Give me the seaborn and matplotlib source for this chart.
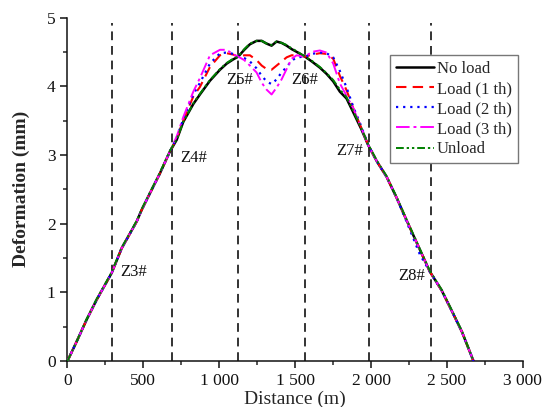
import numpy as np
import pandas as pd
import matplotlib
matplotlib.use('Agg')
import matplotlib.pyplot as plt
import matplotlib.ticker as mticker
import seaborn as sns

sns.set_style('ticks')
plt.rcParams['font.family'] = ['Liberation Serif', 'DejaVu Serif']
plt.rcParams['mathtext.fontset'] = 'stix'

# distance along the line (m)
distance = [0, 60, 126, 192, 291, 357, 456, 489, 543, 609, 675, 720, 763, 829,
            873, 939, 1005, 1050, 1092, 1125, 1165, 1202, 1246, 1280, 1312,
            1345, 1378, 1411, 1444, 1477, 1510, 1565, 1610, 1663, 1707, 1751,
            1795, 1839, 1883, 1935, 1982, 2040, 2103, 2170, 2234, 2322, 2388,
            2465, 2541, 2600, 2675]

no_load = [0.00, 0.28, 0.60, 0.89, 1.28, 1.64, 2.03, 2.20, 2.44, 2.73, 3.05,
           3.22, 3.48, 3.74, 3.88, 4.08, 4.24, 4.33, 4.39, 4.43, 4.53, 4.61,
           4.66, 4.66, 4.62, 4.59, 4.65, 4.63, 4.59, 4.54, 4.50, 4.43, 4.36,
           4.27, 4.18, 4.07, 3.92, 3.82, 3.62, 3.38, 3.14, 2.90, 2.68, 2.37,
           2.05, 1.62, 1.30, 1.03, 0.69, 0.42, 0.00]

load_1 = [0.00, 0.28, 0.60, 0.89, 1.28, 1.64, 2.03, 2.20, 2.44, 2.73, 3.05,
          3.24, 3.50, 3.85, 3.99, 4.28, 4.45, 4.48, 4.46, 4.43, 4.45, 4.45,
          4.38, 4.30, 4.25, 4.24, 4.30, 4.36, 4.42, 4.45, 4.45, 4.43, 4.46,
          4.48, 4.47, 4.40, 4.15, 3.94, 3.68, 3.40, 3.14, 2.90, 2.68, 2.37,
          2.05, 1.62, 1.30, 1.03, 0.69, 0.42, 0.00]

load_2 = [0.00, 0.28, 0.60, 0.89, 1.28, 1.64, 2.03, 2.20, 2.44, 2.73, 3.05,
          3.25, 3.52, 3.88, 4.05, 4.33, 4.48, 4.49, 4.47, 4.43, 4.41, 4.36,
          4.26, 4.15, 4.07, 4.03, 4.10, 4.20, 4.28, 4.37, 4.42, 4.43, 4.47,
          4.49, 4.48, 4.42, 4.22, 3.98, 3.70, 3.42, 3.14, 2.90, 2.68, 2.37,
          2.03, 1.55, 1.30, 1.03, 0.69, 0.42, 0.00]

load_3 = [0.00, 0.28, 0.60, 0.89, 1.28, 1.64, 2.03, 2.20, 2.44, 2.73, 3.05,
          3.27, 3.55, 3.92, 4.12, 4.45, 4.53, 4.53, 4.46, 4.43, 4.38, 4.30,
          4.20, 4.05, 3.95, 3.88, 3.98, 4.10, 4.25, 4.40, 4.45, 4.43, 4.50,
          4.52, 4.49, 4.33, 4.04, 3.86, 3.68, 3.40, 3.14, 2.90, 2.68, 2.37,
          2.05, 1.62, 1.30, 1.03, 0.69, 0.42, 0.00]

unload = [0.00, 0.28, 0.61, 0.90, 1.29, 1.65, 2.04, 2.21, 2.45, 2.74, 3.06,
          3.23, 3.48, 3.75, 3.89, 4.09, 4.25, 4.34, 4.40, 4.43, 4.54, 4.62,
          4.66, 4.66, 4.62, 4.60, 4.65, 4.63, 4.60, 4.55, 4.51, 4.43, 4.37,
          4.28, 4.19, 4.09, 3.95, 3.84, 3.64, 3.40, 3.15, 2.91, 2.69, 2.38,
          2.06, 1.63, 1.31, 1.04, 0.70, 0.43, 0.00]

labels = ['No load', 'Load (1 th)', 'Load (2 th)', 'Load (3 th)', 'Unload']
series = [no_load, load_1, load_2, load_3, unload]
colors = ['#000000', '#ff0000', '#0000ff', '#ff00ff', '#008000']
styles = ['-', (0, (5, 3)), (0, (1, 2.2)), (0, (7, 2, 1.5, 2)),
          (0, (4, 1.5, 1.2, 1.5, 1.2, 1.5))]
widths = [1.8, 1.5, 1.6, 1.4, 1.4]

# monitoring sections
section_x = [292, 692, 1124, 1564, 1984, 2398]
section_names = ['Z3#', 'Z4#', 'Z5#', 'Z6#', 'Z7#', 'Z8#']
name_x = [346, 741, 1049, 1477, 1773, 2179]
name_y = [1.29, 2.96, 4.09, 4.09, 3.05, 1.24]

df = pd.DataFrame({'distance': distance})
for lab, vals in zip(labels, series):
    df[lab] = vals

fig = plt.figure(figsize=(5.44, 4.07), dpi=100)
ax = fig.add_axes([0.124, 0.113, 0.837, 0.844])

for xs in section_x:
    ax.axvline(xs, ymax=0.985, color='#333333', linestyle=(0, (4.5, 3)),
               linewidth=1.4, zorder=1)

for lab, c, ls, lw in zip(labels, colors, styles, widths):
    sns.lineplot(data=df, x='distance', y=lab, ax=ax, color=c, linestyle=ls,
                 linewidth=lw, label=lab, estimator=None, sort=False, zorder=3)

for name, tx, ty in zip(section_names, name_x, name_y):
    ax.text(tx, ty, name, fontsize=12, ha='left', va='center', color='#111111')

ax.set_xlim(0, 3000)
ax.set_ylim(0, 5)
ax.set_xticks([0, 500, 1000, 1500, 2000, 2500, 3000])
ax.set_xticklabels(['0', '500', '1 000', '1 500', '2 000', '2 500', '3 000'])
ax.set_yticks([0, 1, 2, 3, 4, 5])
ax.xaxis.set_minor_locator(mticker.AutoMinorLocator(2))
ax.yaxis.set_minor_locator(mticker.AutoMinorLocator(2))
ax.tick_params(which='major', direction='out', length=5, width=1.1, labelsize=12.5,
               colors='#111111')
ax.tick_params(which='minor', direction='out', length=3, width=1.1)
for s in ['top', 'right']:
    ax.spines[s].set_visible(False)
for s in ['left', 'bottom']:
    ax.spines[s].set_linewidth(1.1)
    ax.spines[s].set_color('#111111')

ax.set_xlabel('Distance (m)', fontsize=14, labelpad=1)
ax.set_ylabel('Deformation (mm)', fontsize=14, fontweight='bold', labelpad=12)

leg = ax.legend(loc='upper right', bbox_to_anchor=(0.989, 0.891), fontsize=12,
                frameon=True, fancybox=False, framealpha=1, edgecolor='#777777',
                handlelength=2.3, handletextpad=0.15, labelspacing=0.25,
                borderpad=0.35, borderaxespad=0)
leg.get_frame().set_linewidth(1.0)

plt.savefig('out.png', dpi=100)
plt.close()
